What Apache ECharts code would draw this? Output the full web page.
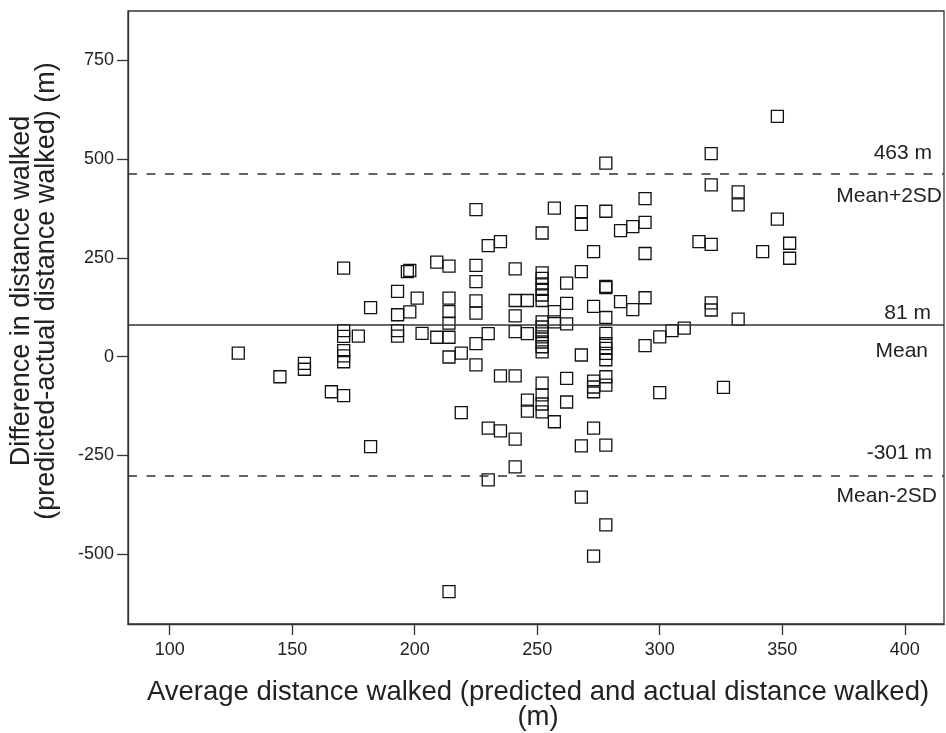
<!DOCTYPE html>
<html>
<head>
<meta charset="utf-8">
<script src="https://cdn.jsdelivr.net/npm/echarts@6/dist/echarts.min.js"></script>
<style>
html,body{margin:0;padding:0;background:#fff;}
#chart{width:946px;height:733px;}
</style>
</head>
<body>
<div id="chart"></div>
<script>
// ---- data ----
var avgDistance = [
  128,145,155,155,166,171,182,182,193,193,198,171,171,177,171,171,171,193,193,171,198,197,201,203,
  209,214,214,214,214,214,209,214,219,219,214,
  225,225,225,225,225,225,225,230,230,235,235,241,230,235,241,230,241,
  241,241,246,241,241,246,246,246,
  252,252,252,252,252,252,252,252,252,252,252,252,252,252,252,252,252,252,
  257,257,257,257,
  262,262,262,262,262,
  268,268,268,268,268,268,
  273,273,273,273,273,273,273,
  278,278,278,278,278,278,278,278,278,278,278,278,278,278,
  284,289,294,294,294,284,289,294,294,300,305,310,300,316,321,321,321,321,321,326,332,332,332,342,348,348,353,353
];
var diffDistance = [
  9,-51,-17,-32,-89,-99,-228,124,165,106,113,66,51,52,15,2,-13,66,52,224,218,215,148,59,
  239,229,148,114,85,49,49,-1,9,-142,-595,
  372,231,190,141,110,33,-21,58,281,291,-49,-49,-181,-188,-209,-312,-279,
  222,142,142,103,63,58,-110,-138,
  313,212,198,184,170,156,142,88,75,63,50,37,25,12,-67,-97,-120,-140,
  376,114,88,-165,
  186,135,83,-55,-115,
  367,335,215,4,-226,-356,
  266,127,-62,-77,-89,-181,-505,
  490,368,178,175,99,59,33,21,8,-8,-51,-72,-224,-426,
  319,329,400,340,261,139,119,149,28,50,66,72,-91,291,284,514,435,136,118,-78,417,384,95,266,348,608,287,249
];
var xTicks = [100,150,200,250,300,350,400];
var yTicks = [-500,-250,0,250,500,750];
var refValues = [463, 81, -301];
var refTopLabels = ['463 m', '81 m', '-301 m'];
var refBottomLabels = ['Mean+2SD', 'Mean', 'Mean-2SD'];
var refDashed = [true, false, true];
var xTitle = 'Average distance walked (predicted and actual distance walked)\n(m)';
var yTitle = 'Difference in distance walked\n(predicted-actual distance walked) (m)';

// ---- build ----
var points = avgDistance.map(function (x, i) { return [x, diffDistance[i]]; });
var FONT = '"Liberation Sans", Arial, sans-serif';
var topDist = [[12, 10.5], [13, 1], [12, 12]];
var botDist = [[2, 11.5], [16, 16], [7, 10.5]];

var markData = [];
refValues.forEach(function (v, i) {
  var ls = { color: '#333', width: 1.5, type: refDashed[i] ? [9, 9.5] : 'solid' };
  markData.push({
    yAxis: v, lineStyle: ls,
    label: { show: true, formatter: refTopLabels[i], position: 'insideEndTop',
      distance: topDist[i], fontSize: 21, fontFamily: FONT, color: '#222' }
  });
  markData.push({
    yAxis: v, lineStyle: { color: 'rgba(0,0,0,0)', width: 0 },
    label: { show: true, formatter: refBottomLabels[i], position: 'insideEndBottom',
      distance: botDist[i], fontSize: 21, fontFamily: FONT, color: '#222' }
  });
});

var chart = echarts.init(document.getElementById('chart'), null, { renderer: 'canvas' });
chart.setOption({
  animation: false,
  backgroundColor: '#fff',
  grid: { left: 128, right: 2, top: 11, bottom: 109, show: true, borderColor: '#333', borderWidth: 1.3, backgroundColor: 'transparent' },
  xAxis: {
    type: 'value', min: 83, max: 416,
    axisLine: { show: true, onZero: false, lineStyle: { color: '#333', width: 1.3 } },
    axisTick: { show: true, customValues: xTicks, length: 11, lineStyle: { color: '#333', width: 1.3 } },
    axisLabel: { customValues: xTicks, fontSize: 18, fontFamily: FONT, color: '#222', margin: 17 },
    splitLine: { show: false }
  },
  yAxis: {
    type: 'value', min: -677, max: 875,
    axisLine: { show: true, onZero: false, lineStyle: { color: '#333', width: 1.3 } },
    axisTick: { show: true, customValues: yTicks, length: 11, lineStyle: { color: '#333', width: 1.3 } },
    axisLabel: { customValues: yTicks, fontSize: 18, fontFamily: FONT, color: '#222', margin: 14 },
    splitLine: { show: false }
  },
  graphic: [
    { type: 'text', x: 34, y: 291, rotation: Math.PI / 2,
      style: { text: yTitle, font: '27px ' + FONT, fill: '#222', align: 'center', verticalAlign: 'middle', lineHeight: 25 } },
    { type: 'text', x: 538, y: 705,
      style: { text: xTitle, font: '27.5px ' + FONT, fill: '#222', align: 'center', verticalAlign: 'middle', lineHeight: 25 } }
  ],
  series: [{
    type: 'scatter',
    data: points,
    symbol: 'rect',
    symbolSize: 12,
    itemStyle: { color: 'rgba(0,0,0,0)', borderColor: '#111', borderWidth: 1.3, opacity: 1 },
    emphasis: { disabled: true },
    markLine: { silent: true, symbol: 'none', animation: false, data: markData }
  }]
});
</script>
</body>
</html>
